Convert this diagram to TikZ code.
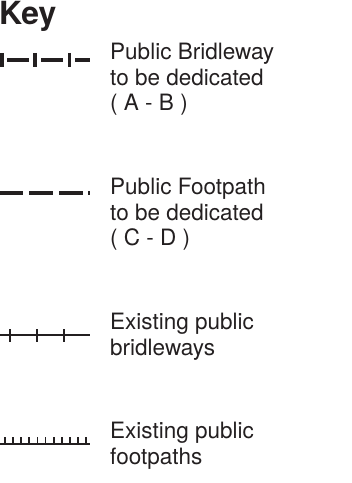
\documentclass[tikz,border=0pt]{standalone}
\usepackage{fontspec}
\setmainfont{TeX Gyre Heros}
\usepackage{tikz}
\definecolor{keyink}{HTML}{231F20}

\begin{document}
\begin{tikzpicture}[x=1bp, y=-1bp, keyink,
    keytext/.style={anchor=base west, align=left, inner sep=0pt, text=keyink,
        font=\fontsize{22.6}{25.5}\selectfont},
    keybar/.style={line width=4.5bp},
    keytick/.style={line width=3.5bp},
    keyline/.style={line width=1.8bp},
    keyhair/.style={line width=1.8bp}]
    \useasboundingbox (0,0) rectangle (351,483);
    \node[anchor=base west, inner sep=0pt, font=\bfseries\fontsize{32}{32}\selectfont] (title) at (-1,25) {Key};
    % public bridleway to be dedicated (base = last line)
    \foreach \a/\b in {7/29, 41/63, 75/90}
        \draw[keybar] (\a,60) -- (\b,60);
    \foreach \t in {2, 35, 69.5}
        \draw[keytick] (\t,53) -- (\t,67);
    \node[keytext] (bridlenew) at (110,110.5) {Public Bridleway\\to be dedicated\\( A - B )};
    % public footpath to be dedicated
    \foreach \a/\b in {0/23, 29/53, 59/83, 88/90}
        \draw[keybar] (\a,193) -- (\b,193);
    \node[keytext] (footnew) at (110,245.5) {Public Footpath\\to be dedicated\\( C - D )};
    % existing bridleways
    \draw[keyline] (0,335) -- (90,335);
    \foreach \t in {10, 37, 64}
        \draw[keyline] (\t,329) -- (\t,342);
    \node[keytext] (bridleold) at (110,355) {Existing public\\bridleways};
    % existing footpaths
    \draw[keyline] (0,444) -- (90,444);
    \foreach \i in {0,...,10}
        \draw[keyhair] (5+8.1*\i,437) -- (5+8.1*\i,444);
    \node[keytext] (footold) at (110,464) {Existing public\\footpaths};
\end{tikzpicture}
\end{document}
